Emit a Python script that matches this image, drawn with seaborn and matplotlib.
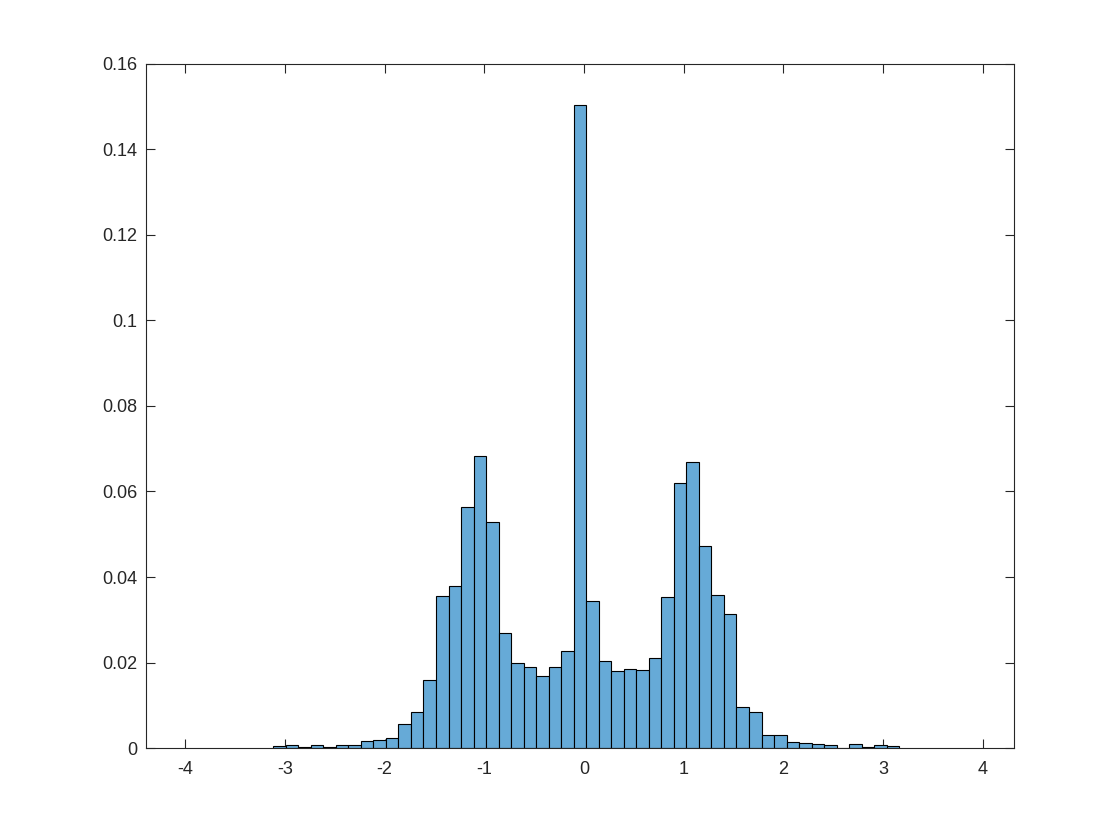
import numpy as np
import pandas as pd
import matplotlib
matplotlib.use("Agg")
import matplotlib.pyplot as plt
from matplotlib.ticker import FuncFormatter
import seaborn as sns

# bin layout (50 equal bins)
bin_start = -3.117
bin_width = 0.1256

# probability per bin, left to right
probs = [0.0005, 0.0007, 0.0004, 0.0007, 0.0004, 0.0007, 0.0007, 0.0016, 0.0019, 0.0023,
         0.0056, 0.0084, 0.0160, 0.0356, 0.0379, 0.0563, 0.0683, 0.0528, 0.0269, 0.0199,
         0.0189, 0.0170, 0.0191, 0.0227, 0.1502, 0.0345, 0.0203, 0.0180, 0.0186, 0.0182,
         0.0212, 0.0353, 0.0619, 0.0668, 0.0472, 0.0357, 0.0313, 0.0096, 0.0084, 0.0030,
         0.0030, 0.0014, 0.0012, 0.0009, 0.0007, 0.0000, 0.0009, 0.0004, 0.0007, 0.0005]

x_ticks = [-4, -3, -2, -1, 0, 1, 2, 3, 4]
y_ticks = [0, 0.02, 0.04, 0.06, 0.08, 0.1, 0.12, 0.14, 0.16]

edges = bin_start + bin_width * np.arange(len(probs) + 1)
df = pd.DataFrame({'x': (edges[:-1] + edges[1:]) / 2, 'p': probs})

sns.set_style("white")
plt.rcParams['font.family'] = ['Liberation Sans', 'DejaVu Sans']
plt.rcParams['axes.unicode_minus'] = False

axis_col = '#262626'
fig = plt.figure(figsize=(11.2, 8.4), dpi=100)
ax = fig.add_axes([0.1306, 0.1092, 0.775, 0.8152])

sns.histplot(data=df, x='x', weights='p', bins=list(edges), stat='count',
             color='#66aad7', alpha=1, edgecolor='black', linewidth=0.8, ax=ax)

ax.set_xlim(-4.391, 4.317)
ax.set_ylim(0, 0.16)
ax.set_xticks(x_ticks)
ax.set_yticks(y_ticks)
ax.yaxis.set_major_formatter(FuncFormatter(lambda v, p: '%g' % v))
ax.set_xlabel('')
ax.set_ylabel('')

for s in ax.spines.values():
    s.set_visible(True)
    s.set_color(axis_col)
    s.set_linewidth(0.8)
ax.tick_params(direction='in', length=6.2, width=0.8, colors=axis_col,
               labelsize=13, top=True, right=True, left=True, bottom=True)
ax.tick_params(axis='x', pad=9.5)
ax.tick_params(axis='y', pad=6.5)

fig.savefig('out.png', dpi=100, facecolor='white')
